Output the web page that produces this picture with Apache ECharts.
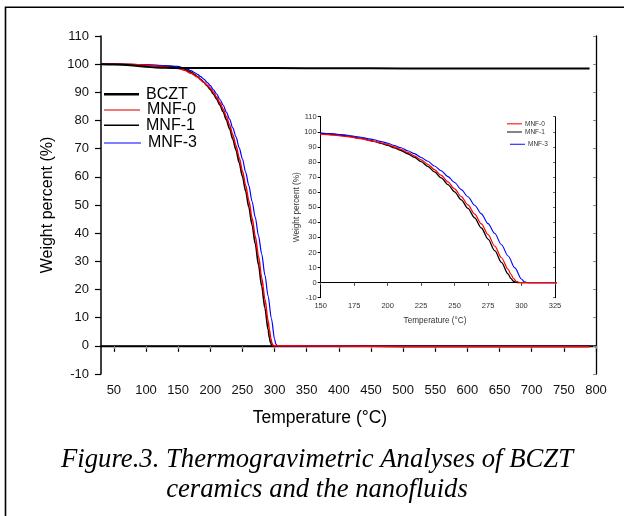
<!DOCTYPE html>
<html>
<head>
<meta charset="utf-8">
<script src="https://cdn.jsdelivr.net/npm/echarts@6/dist/echarts.min.js"></script>
<style>
html,body{margin:0;padding:0;background:#fff;}
#chart{width:624px;height:516px;}
</style>
</head>
<body>
<div id="chart"></div>
<script>
// ---- data ----
const mainXTicks = [50,100,150,200,250,300,350,400,450,500,550,600,650,700,750,800];

const bcztT = [30,50,75,100,115,130,150,200,300,400,500,600,700,790];
const bcztW = [100,99.9,99.6,99.1,98.8,98.7,98.65,98.6,98.6,98.55,98.5,98.5,98.5,98.5];

const mnf1T = [30,50,75,100,125,150,155,160,165,170,175,180,185,190,195,200,205,210,215,220,225,230,235,240,245,250,255,260,265,270,275,280,285,290,292,294,296,298,300,325,400,500,600,700,790];
const mnf1W = [100,100,99.9,99.7,99.4,99.0,98.62,98.2,97.68,97.1,96.38,95.6,94.65,93.6,92.35,91.0,89.35,87.6,85.45,83.1,80.25,77.1,73.4,69.5,65.0,60.2,54.9,49.2,42.9,36.2,28.8,21.2,13.4,5.7,2.8,0.9,0.15,0,0,0,-0.1,-0.2,-0.2,-0.2,-0.2];

const mnf0T = [30,50,75,100,125,150,160,170,180,190,195,200,205,210,215,220,225,230,235,240,245,250,255,260,265,270,275,280,285,290,292,294,296,298,300,325,400,500,600,700,790];
const mnf0W = [100,100,99.9,99.6,99.2,98.5,97.8,96.8,95.4,93.6,92.6,91.5,90.0,88.3,86.3,84.0,81.4,78.4,74.9,71.1,66.8,62.1,57.0,51.5,45.4,38.9,31.8,24.2,16.5,8.8,5.7,2.8,0.9,0.15,0,0,-0.1,-0.2,-0.2,-0.2,-0.2];

const mnf3T = [30,50,75,100,125,150,155,160,165,170,175,180,185,190,195,200,205,210,215,220,225,230,235,240,245,250,255,260,265,270,275,280,285,290,295,300,302,304,306,325,400,500,600,700,790];
const mnf3W = [100,100,99.9,99.8,99.5,99.2,98.9,98.6,98.15,97.7,97.05,96.4,95.55,94.7,93.55,92.4,90.9,89.4,87.45,85.5,83.0,80.5,77.35,74.2,70.3,66.4,61.65,56.9,51.25,45.6,39.1,32.6,25.1,17.6,9.8,2.4,0.6,0.05,0,0,-0.1,-0.2,-0.2,-0.2,-0.2];

function pairs(t, w){ return t.map((v,i)=>[v, w[i]]); }

const SANS = 'Liberation Sans, Arial, sans-serif';
const SERIF = 'Liberation Serif, Times New Roman, serif';

const chart = echarts.init(document.getElementById('chart'), null, {renderer:'canvas'});

function mainLegend(name, cy, width, lw, color){
  return {
    data:[name], left:104, top:cy - 8, orient:'vertical', padding:0,
    icon:'rect', itemWidth:width, itemHeight:lw, selectedMode:false,
    itemStyle:{color:color, borderWidth:0},
    textStyle:{fontFamily:SANS, fontSize:16, color:'#000', padding:[0,0,0,2]}
  };
}
function insetLegend(name, left, cy, color){
  return {
    data:[name], left:left, top:cy - 3.5, orient:'vertical', padding:0,
    icon:'rect', itemWidth:15, itemHeight:1.2, selectedMode:false,
    itemStyle:{color:color, borderWidth:0},
    textStyle:{fontFamily:SANS, fontSize:6.5, color:'#333', padding:[0,0,0,-2]}
  };
}

const axisLineMain = {show:true, lineStyle:{color:'#000', width:1.5}};
const axisLineInset = {show:true, lineStyle:{color:'#000', width:1}};

function line(name, xi, yi, data, color, width, z){
  return {name:name, type:'line', xAxisIndex:xi, yAxisIndex:yi, data:data,
    symbol:'none', showSymbol:false, smooth:0.3, smoothMonotone:'x', clip:true,
    lineStyle:{color:color, width:width}, itemStyle:{color:color}, z:z};
}

const option = {
  animation:false,
  backgroundColor:'#fff',
  grid:[
    {left:101, top:36, width:495, height:338, containLabel:false, outerBoundsMode:'none'},
    {left:320.7, top:116.7, width:234.3, height:181, containLabel:false, outerBoundsMode:'none',
     show:true, backgroundColor:'#fff', borderWidth:0}
  ],
  xAxis:[
    {type:'value', gridIndex:0, position:'bottom', min:30, max:800,
     axisLine:axisLineMain, splitLine:{show:false},
     axisTick:{show:true, length:6, customValues:mainXTicks, lineStyle:{color:'#000', width:1.2}},
     axisLabel:{customValues:mainXTicks, margin:10, fontFamily:SANS, fontSize:13, color:'#111'}},
    {type:'value', gridIndex:0, position:'top', min:30, max:800,
     axisLine:{show:true, lineStyle:{color:'#000', width:1.3}}, splitLine:{show:false},
     axisTick:{show:true, inside:true, length:3, customValues:mainXTicks, lineStyle:{color:'#888', width:1}},
     axisLabel:{show:false}},
    {type:'value', gridIndex:1, position:'bottom', min:150, max:325, interval:25,
     axisLine:axisLineInset, splitLine:{show:false},
     axisTick:{show:true, length:3, lineStyle:{color:'#000', width:1}},
     axisLabel:{margin:4, fontFamily:SANS, fontSize:7.5, color:'#333'}},
    {type:'value', gridIndex:1, position:'top', min:150, max:325, interval:25,
     axisLine:axisLineInset, splitLine:{show:false},
     axisTick:{show:true, inside:true, length:2, lineStyle:{color:'#666', width:1}},
     axisLabel:{show:false}}
  ],
  yAxis:[
    {type:'value', gridIndex:0, position:'left', min:-10, max:110, interval:10,
     axisLine:axisLineMain, splitLine:{show:false},
     axisTick:{show:true, length:6, lineStyle:{color:'#000', width:1.2}},
     axisLabel:{margin:12, fontFamily:SANS, fontSize:13, color:'#111'},
     name:'Weight percent (%)', nameLocation:'middle', nameRotate:90, nameGap:45,
     nameTextStyle:{fontFamily:SANS, fontSize:16, color:'#000'}},
    {type:'value', gridIndex:0, position:'right', min:-10, max:110, interval:10,
     axisLine:{show:true, lineStyle:{color:'#000', width:1.3}}, splitLine:{show:false},
     axisTick:{show:true, inside:true, length:3, lineStyle:{color:'#888', width:1}},
     axisLabel:{show:false}},
    {type:'value', gridIndex:1, position:'left', min:-10, max:110, interval:10,
     axisLine:axisLineInset, splitLine:{show:false},
     axisTick:{show:true, length:3, lineStyle:{color:'#000', width:1}},
     axisLabel:{margin:4, fontFamily:SANS, fontSize:7.5, color:'#333'},
     name:'Weight percent (%)', nameLocation:'middle', nameRotate:90, nameGap:20,
     nameTextStyle:{fontFamily:SANS, fontSize:8.2, color:'#333'}},
    {type:'value', gridIndex:1, position:'right', min:-10, max:110, interval:10,
     axisLine:axisLineInset, splitLine:{show:false},
     axisTick:{show:true, inside:true, length:2, lineStyle:{color:'#666', width:1}},
     axisLabel:{show:false}}
  ],
  legend:[
    mainLegend('BCZT', 94.3, 35, 2.5, '#000'),
    mainLegend('MNF-0', 110, 36, 2, '#f07878'),
    mainLegend('MNF-1', 125.3, 35, 1.5, '#000'),
    mainLegend('MNF-3', 143, 37, 1.2, '#0000ff'),
    insetLegend('MNF-0', 507, 123.8, '#ff2020'),
    insetLegend('MNF-1', 507, 132, '#333'),
    insetLegend('MNF-3', 510, 144.3, '#3030ff')
  ],
  series:[
    line('BCZT', 0, 0, pairs(bcztT,bcztW), '#000', 2, 5),
    line('MNF-1', 0, 0, pairs(mnf1T,mnf1W), '#000', 1.6, 2),
    line('MNF-3', 0, 0, pairs(mnf3T,mnf3W), '#0000ff', 1.2, 3),
    line('MNF-0', 0, 0, pairs(mnf0T,mnf0W), '#ff0000', 1.5, 4),
    line('MNF-1', 2, 2, pairs(mnf1T,mnf1W), '#000', 1.3, 6),
    line('MNF-3', 2, 2, pairs(mnf3T,mnf3W), '#0000ff', 1.1, 6),
    line('MNF-0', 2, 2, pairs(mnf0T,mnf0W), '#ff0000', 1.2, 7)
  ],
  graphic:[
    {type:'rect', silent:true, z:-1, shape:{x:5.5, y:7.3, width:700, height:600},
     style:{fill:'none', stroke:'#000', lineWidth:1.6}},
    {type:'text', silent:true, style:{x:320, y:418, text:'Temperature (°C)', align:'center', verticalAlign:'middle',
     font:'17.5px ' + SANS, fill:'#000'}},
    {type:'text', silent:true, style:{x:435, y:320.7, text:'Temperature (°C)', align:'center', verticalAlign:'middle',
     font:'8.2px ' + SANS, fill:'#333'}},
    {type:'text', silent:true, style:{x:317, y:460, text:'Figure.3. Thermogravimetric Analyses of BCZT', align:'center', verticalAlign:'middle',
     font:'italic 26.7px ' + SERIF, fill:'#000'}},
    {type:'text', silent:true, style:{x:317, y:490, text:'ceramics and the nanofluids', align:'center', verticalAlign:'middle',
     font:'italic 26.7px ' + SERIF, fill:'#000'}}
  ]
};
chart.setOption(option);
</script>
</body>
</html>
